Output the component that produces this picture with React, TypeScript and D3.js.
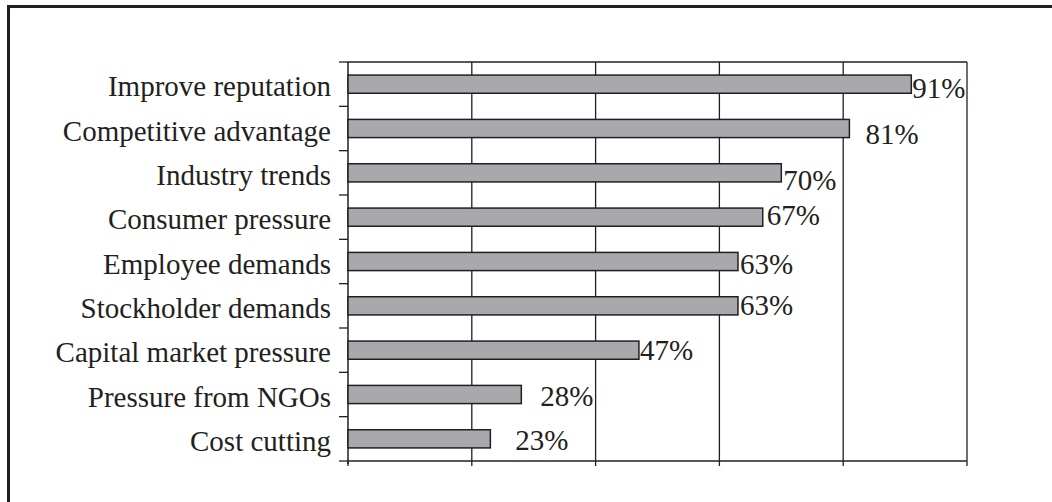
import React, { useEffect, useRef } from 'react';
import * as d3 from 'd3';

const categories = [
  'Improve reputation',
  'Competitive advantage',
  'Industry trends',
  'Consumer pressure',
  'Employee demands',
  'Stockholder demands',
  'Capital market pressure',
  'Pressure from NGOs',
  'Cost cutting',
];
const values = [0.91, 0.81, 0.7, 0.67, 0.63, 0.63, 0.47, 0.28, 0.23];
const xTicks = [0, 0.2, 0.4, 0.6, 0.8, 1];
// label nudges (px right of the bar end, px down from bar centre), as in the original print
const labelDx = [1, 16, 2, 4, 2, 2, 1, 19, 25];
const labelDy = [4, 5, 7, -2, 2, -1, 0, 1, 1];

const W = 1052;
const H = 502;
const ink = '#231f20';
const serif = '"Liberation Serif", "Times New Roman", serif';

const App: React.FC = () => {
  const svgRef = useRef<SVGSVGElement | null>(null);

  useEffect(() => {
    document.body.style.margin = '0';
    if (!svgRef.current) return;
    const svg = d3.select(svgRef.current);
    svg.selectAll('*').remove();

    const left = 348, right = 967, top = 62, bottom = 461;

    const x = d3.scaleLinear().domain([0, 1]).range([left, right]);
    const y = d3.scaleBand<string>().domain(categories).range([top, bottom]).paddingInner(0.59).paddingOuter(0.295);
    const band = d3.scaleBand<string>().domain(categories).range([top, bottom]);

    // outer frame (right/bottom run off the page)
    svg.append('rect')
      .attr('x', 8.5).attr('y', 6.5)
      .attr('width', W + 40).attr('height', H + 40)
      .attr('fill', 'none').attr('stroke', ink).attr('stroke-width', 3);

    // gridlines
    svg.append('g').selectAll('line')
      .data(xTicks.slice(1))
      .enter().append('line')
      .attr('x1', d => x(d)).attr('x2', d => x(d))
      .attr('y1', top).attr('y2', bottom)
      .attr('stroke', ink).attr('stroke-width', 1.3);

    svg.append('line')
      .attr('x1', left).attr('x2', right).attr('y1', top).attr('y2', top)
      .attr('stroke', ink).attr('stroke-width', 1.3);

    // x axis
    const gx = svg.append('g').attr('transform', `translate(0,${bottom})`);
    gx.append('line').attr('x1', left).attr('x2', right).attr('stroke', ink).attr('stroke-width', 1.5);
    gx.selectAll('.xt').data(xTicks).enter().append('line')
      .attr('x1', d => x(d)).attr('x2', d => x(d)).attr('y1', 0).attr('y2', 5)
      .attr('stroke', ink).attr('stroke-width', 1.3);

    // y axis
    const gy = svg.append('g');
    gy.append('line').attr('x1', left).attr('x2', left).attr('y1', top).attr('y2', bottom + 3)
      .attr('stroke', ink).attr('stroke-width', 1.5);
    const bounds = categories.map(c => band(c) as number).concat([bottom]);
    gy.selectAll('.yt').data(bounds).enter().append('line')
      .attr('x1', left - 9).attr('x2', left).attr('y1', d => d).attr('y2', d => d)
      .attr('stroke', ink).attr('stroke-width', 1.3);
    gy.selectAll('text').data(categories).enter().append('text')
      .attr('x', left - 17)
      .attr('y', d => (band(d) as number) + band.bandwidth() / 2 + 2)
      .attr('dy', '0.35em')
      .attr('text-anchor', 'end')
      .attr('font-family', serif)
      .attr('font-size', 29)
      .attr('fill', ink)
      .text(d => d);

    // bars
    svg.append('g').selectAll('rect')
      .data(categories)
      .enter().append('rect')
      .attr('x', left)
      .attr('y', d => y(d) as number)
      .attr('width', (d, i) => x(values[i]) - left)
      .attr('height', y.bandwidth())
      .attr('fill', '#a7a9ac')
      .attr('stroke', ink)
      .attr('stroke-width', 1.5);

    // value labels
    svg.append('g').selectAll('text')
      .data(categories)
      .enter().append('text')
      .attr('x', (d, i) => x(values[i]) + labelDx[i])
      .attr('y', (d, i) => (y(d) as number) + y.bandwidth() / 2 + labelDy[i])
      .attr('dy', '0.35em')
      .attr('font-family', serif)
      .attr('font-size', 29)
      .attr('fill', ink)
      .text((d, i) => `${Math.round(values[i] * 100)}%`);
  }, []);

  return <svg ref={svgRef} width={W} height={H} style={{ display: 'block', background: '#fff' }} />;
};

export default App;
